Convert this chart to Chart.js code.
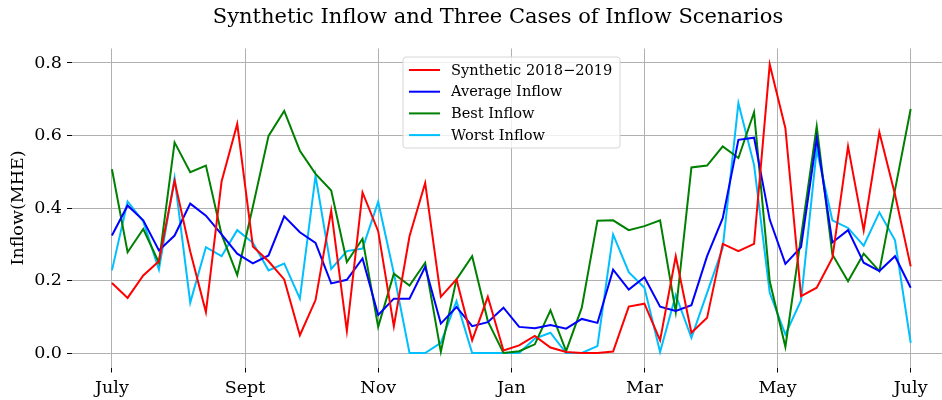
<!DOCTYPE html>
<html>
<head>
<meta charset="utf-8">
<script src="https://cdn.jsdelivr.net/npm/chart.js@4"></script>
<style>
  html, body { margin: 0; padding: 0; background: #fff; }
  #wrap { width: 942px; height: 400px; position: relative; }
</style>
</head>
<body>
<div id="wrap"><canvas id="inflowChart"></canvas></div>
<script>
// weekly values, July 2018 -> July 2019
const synthetic = [0.193, 0.152, 0.214, 0.253, 0.475, 0.28, 0.113, 0.473, 0.632, 0.294,
  0.253, 0.203, 0.049, 0.146, 0.393, 0.061, 0.443, 0.336, 0.074, 0.322,
  0.469, 0.155, 0.203, 0.035, 0.155, 0.007, 0.021, 0.047, 0.015, 0.003,
  0.0, 0.0, 0.004, 0.128, 0.136, 0.035, 0.267, 0.056, 0.097, 0.301,
  0.281, 0.301, 0.796, 0.62, 0.157, 0.18, 0.262, 0.570, 0.338, 0.609,
  0.437, 0.239];
const average = [0.324, 0.407, 0.366, 0.283, 0.324, 0.412, 0.379, 0.327, 0.274, 0.247,
  0.269, 0.377, 0.333, 0.304, 0.192, 0.202, 0.261, 0.105, 0.150, 0.150,
  0.238, 0.081, 0.127, 0.074, 0.085, 0.125, 0.072, 0.068, 0.077, 0.067,
  0.094, 0.083, 0.230, 0.175, 0.209, 0.128, 0.116, 0.132, 0.267, 0.372,
  0.588, 0.594, 0.368, 0.246, 0.292, 0.593, 0.305, 0.339, 0.249, 0.226,
  0.267, 0.180];
const best = [0.507, 0.278, 0.342, 0.249, 0.581, 0.499, 0.517, 0.327, 0.215, 0.404,
  0.599, 0.668, 0.558, 0.494, 0.448, 0.251, 0.315, 0.072, 0.219, 0.186,
  0.249, 0.003, 0.203, 0.267, 0.088, 0.0, 0.005, 0.024, 0.118, 0.005,
  0.125, 0.365, 0.366, 0.339, 0.35, 0.366, 0.113, 0.512, 0.517, 0.570,
  0.538, 0.664, 0.198, 0.017, 0.32, 0.625, 0.272, 0.198, 0.274, 0.226,
  0.45, 0.673];
const worst = [0.228, 0.418, 0.363, 0.230, 0.483, 0.139, 0.292, 0.267, 0.339, 0.304,
  0.228, 0.247, 0.150, 0.489, 0.232, 0.281, 0.288, 0.417, 0.22, 0.0,
  0.0, 0.028, 0.143, 0.0, 0.0, 0.0, 0.0, 0.04, 0.056, 0.0,
  0.0, 0.019, 0.327, 0.223, 0.18, 0.003, 0.16, 0.042, 0.166, 0.290,
  0.689, 0.519, 0.166, 0.051, 0.145, 0.561, 0.366, 0.345, 0.296, 0.388,
  0.311, 0.028];

const monthLabels = ["July", "Sept", "Nov", "Jan", "Mar", "May", "July"];
const monthTicks = [0, 8.5, 17, 25.5, 34, 42.5, 51];
const yTicks = [0, 0.2, 0.4, 0.6, 0.8];

const serif = "'DejaVu Serif', serif";
const toPoints = arr => arr.map((v, i) => ({ x: i, y: v }));

// title + legend drawn by hand so they sit where matplotlib put them
const overlay = {
  id: "overlay",
  afterDraw(chart) {
    const c = chart.ctx;
    c.save();
    c.fillStyle = "#000";
    c.font = "21px " + serif;
    c.textAlign = "center";
    c.textBaseline = "middle";
    c.fillText("Synthetic Inflow and Three Cases of Inflow Scenarios", 498, 18);

    // legend box
    const bx = 403, by = 57, bw = 217, bh = 91, r = 3;
    c.beginPath();
    c.moveTo(bx + r, by);
    c.arcTo(bx + bw, by, bx + bw, by + bh, r);
    c.arcTo(bx + bw, by + bh, bx, by + bh, r);
    c.arcTo(bx, by + bh, bx, by, r);
    c.arcTo(bx, by, bx + bw, by, r);
    c.closePath();
    c.fillStyle = "rgba(255,255,255,0.8)";
    c.fill();
    c.strokeStyle = "#d6d6d6";
    c.lineWidth = 1;
    c.stroke();

    c.font = "14.6px " + serif;
    c.textAlign = "left";
    chart.data.datasets.forEach((ds, i) => {
      const y = 70 + i * 21.7;
      c.strokeStyle = ds.borderColor;
      c.lineWidth = 2;
      c.beginPath();
      c.moveTo(409, y);
      c.lineTo(440, y);
      c.stroke();
      c.fillStyle = "#000";
      c.fillText(ds.label, 451, y + 1);
    });
    c.restore();
  }
};

new Chart(document.getElementById("inflowChart"), {
  type: "line",
  data: {
    datasets: [
      { label: "Synthetic 2018\u22122019", data: toPoints(synthetic), borderColor: "#ff0000" },
      { label: "Average Inflow", data: toPoints(average), borderColor: "#0000ff" },
      { label: "Best Inflow", data: toPoints(best), borderColor: "#008000" },
      { label: "Worst Inflow", data: toPoints(worst), borderColor: "#00bfff" }
    ]
  },
  options: {
    responsive: true,
    maintainAspectRatio: false,
    animation: false,
    layout: { padding: { top: 48.5, left: 0, right: 0, bottom: 0 } },
    elements: {
      line: { borderWidth: 2, tension: 0, fill: false },
      point: { radius: 0 }
    },
    plugins: {
      legend: { display: false },
      title: { display: false },
      tooltip: { enabled: false }
    },
    scales: {
      x: {
        type: "linear",
        min: -2.55,
        max: 53,
        afterBuildTicks: scale => { scale.ticks = monthTicks.map(v => ({ value: v })); },
        afterFit: scale => { scale.height = 32.5; },
        ticks: {
          color: "#000",
          font: { family: serif, size: 17.5 },
          padding: 5,
          maxRotation: 0,
          callback: (v) => monthLabels[monthTicks.indexOf(v)]
        },
        grid: { color: "#b0b0b0", lineWidth: 1, tickColor: "#000", tickLength: 5 },
        border: { display: false }
      },
      y: {
        min: -0.04,
        max: 0.84,
        afterBuildTicks: scale => { scale.ticks = yTicks.map(v => ({ value: v })); },
        afterFit: scale => { scale.width = 72; },
        ticks: {
          color: "#000",
          font: { family: serif, size: 17.5 },
          padding: 5,
          callback: v => v.toFixed(1)
        },
        title: {
          display: true,
          text: "Inflow(MHE)",
          color: "#000",
          font: { family: serif, size: 17.5 },
          padding: { top: 7.5, bottom: 0 }
        },
        grid: { color: "#b0b0b0", lineWidth: 1, tickColor: "#000", tickLength: 5 },
        border: { display: false }
      }
    }
  },
  plugins: [overlay]
});
</script>
</body>
</html>
